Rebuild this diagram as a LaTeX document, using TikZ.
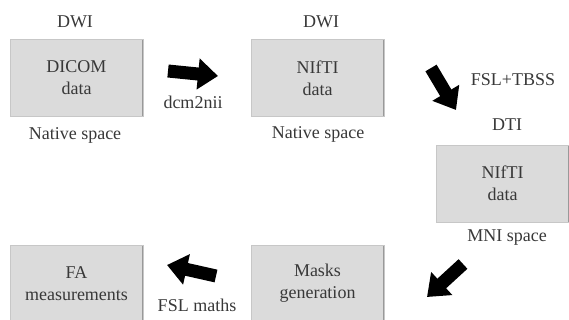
\documentclass[tikz,border=0pt]{standalone}
\usepackage{fontspec}
\setmainfont{Liberation Serif}
\usetikzlibrary{arrows.meta}
\tikzset{
  databox/.style={draw=black!22, fill=black!14, text=black!78, align=center,
    minimum width=133pt, minimum height=77pt, inner sep=0pt,
    font=\fontsize{18}{22}\selectfont,
    path picture={\draw[black!40,line width=2pt]
      (path picture bounding box.north east) -- (path picture bounding box.south east);}},
  lbl/.style={text=black!78, inner sep=0pt, font=\fontsize{18}{22}\selectfont},
  bigarrow/.style={line width=13pt, black, -{Triangle[length=20pt,width=30pt]}}
}
\begin{document}
\begin{tikzpicture}[x=1pt,y=-1pt]
\useasboundingbox (0,0) rectangle (569,320);
\clip (0,0) rectangle (569,320);
\node[databox] (dicom) at (76.5,78) {DICOM\\data};
\node[databox] (nifti) at (317.5,78) {NIfTI\\data};
\node[databox] (mni) at (502.5,183.5) {NIfTI\\data};
\node[databox] (masks) at (317.5,283.5) {Masks\\generation};
\node[databox] (fa) at (76.5,283.5) {FA\\measurements};
\node[lbl] (dwia) at (75,22) {DWI};
\node[lbl] (nata) at (75,135) {Native space};
\node[lbl] (dwib) at (321,22) {DWI};
\node[lbl] (natb) at (318,134) {Native space};
\node[lbl] (dti) at (507,125) {DTI};
\node[lbl] (mnilbl) at (507,238) {MNI space};
\node[lbl] (dcm) at (193,102) {dcm2nii};
\node[lbl] (tbss) at (513,80) {FSL+TBSS};
\node[lbl] (maths) at (197,305) {FSL maths};
\coordinate (a1s) at (168,71);
\coordinate (a1e) at (218,76);
\coordinate (a2s) at (431,68);
\coordinate (a2e) at (456,110);
\coordinate (a3s) at (463,264);
\coordinate (a3e) at (427,297);
\coordinate (a4s) at (216,276);
\coordinate (a4e) at (167,265);
\draw[bigarrow] (a1s) -- (a1e);
\draw[bigarrow] (a2s) -- (a2e);
\draw[bigarrow] (a3s) -- (a3e);
\draw[bigarrow] (a4s) -- (a4e);
\end{tikzpicture}
\end{document}
